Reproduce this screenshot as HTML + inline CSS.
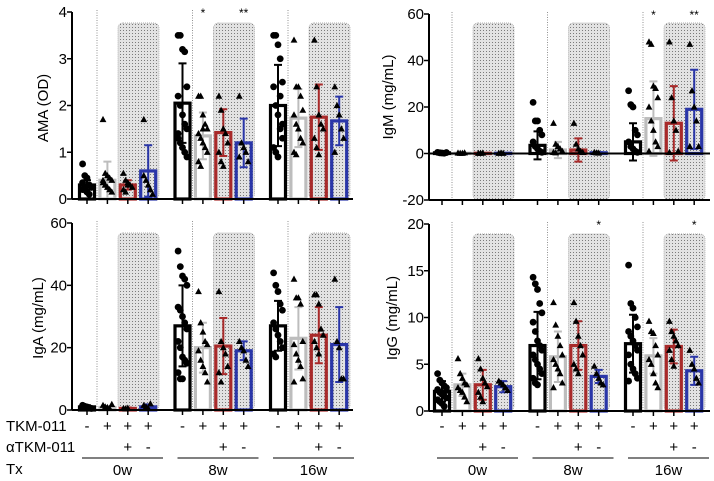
<!DOCTYPE html>
<html><head><meta charset="utf-8"><style>
html,body{margin:0;padding:0;background:#fff;}
svg{display:block;font-family:"Liberation Sans",Arial,sans-serif;}
</style></head><body>
<svg id="chart" width="714" height="481" viewBox="0 0 714 481" xmlns="http://www.w3.org/2000/svg">
<defs>
<pattern id="dots" width="3" height="3" patternUnits="userSpaceOnUse">
<rect width="3" height="3" fill="#e2e2e2"/><rect width="1" height="1" fill="#7a7a7a"/>
</pattern>
</defs>
</svg>
<script>
// ---------- data ----------
const groupLabels = ["0w","8w","16w"];
const tkmSigns = ["-","+","+","+"];
const atkmSigns = ["","","+","-"];

const amaMeans = [0.3,0.4,0.3,0.6, 2.05,1.35,1.42,1.2, 2.0,1.73,1.75,1.67];
const amaSD    = [0.1,0.4,0.1,0.55, 0.85,0.5,0.5,0.52, 0.87,0.62,0.7,0.52];
const amaPoints = [
 [0.75,0.5,0.45,0.3,0.25,0.2,0.2,0.15,0.3,0.25,0.35,0.2,0.15,0.1],
 [1.7,0.55,0.5,0.45,0.4,0.35,0.3,0.25,0.2,0.15,0.4,0.3],
 [0.55,0.4,0.35,0.3,0.25,0.2,0.15,0.3],
 [1.7,0.4,0.3,0.2,0.1,0.5],
 [3.5,3.5,3.2,3.15,2.4,2.2,2.0,1.8,1.6,1.5,1.3,1.2,1.1,1.0,0.9,1.4],
 [2.2,2.2,1.8,1.6,1.5,1.4,1.3,1.2,1.1,1.0,0.8,0.7,1.5],
 [2.2,1.9,1.5,1.4,1.2,1.0,0.8,0.7],
 [2.2,1.2,1.1,1.0,0.8,0.9],
 [3.5,3.5,3.3,3.0,2.5,2.4,2.0,1.8,1.5,1.3,1.1,1.0,0.9,2.2,1.6],
 [3.4,2.4,2.4,2.2,1.9,1.8,1.6,1.5,1.3,1.2,1.0,0.95],
 [3.4,2.4,1.8,1.6,1.5,1.3,1.1,0.95],
 [2.4,2.0,1.8,1.5,1.3,1.0]
];
const amaStars = ["","","","", "","*","","**", "","","",""];
const amaTicks = [0,1,2,3,4];

const igmMeans = [0.3,0.1,0.1,0.1, 3.5,1.5,1.5,0.3, 5,15,13,19];
const igmSD    = [0.3,0.1,0.1,0.1, 6,3.5,5,0.3, 8,16,16,17];
const igmPoints = [
 [0.5,0.3,0.2,0.1,0.4],[0.2,0.1,0.1,0.3],[0.1,0.1,0.2],[0.1,0.2,0.1],
 [22,14,14,10,8,5,3,2,1,0.5],[13,4,3,2,1,0.5,0.3],[13,4,2,1,0.5],[0.5,0.3,0.2],
 [27,21,20,10,8,5,3,2,1,0.5],[48,47,29,28,24,20,14,10,5,3,1],[48,24,14,10,1,0.5],[47,27,20,14,3,3]
];
const igmStars = ["","","","", "","","","", "","*","","**"];
const igmTicks = [-20,0,20,40,60];

const igaMeans = [1,0.8,0.5,1, 27,20,20.5,19, 27,23,24,21];
const igaSD    = [0.5,0.5,0.3,0.8, 13,8,9,3, 8,10,9,12];
const igaPoints = [
 [1.5,1.2,1,0.8,0.5,1.3],[1.5,1,0.8,0.5,1.8],[0.5,0.4,0.6],[1.5,1,0.5,2],
 [51,46,43,42,40,33,32,30,28,26,22,20,17,16,15,12,10,10],[38,28,25,22,21,19,16,14,12,9],[38,22,20,18,14,12,9],[22,20,19,16,14],
 [44,40,38,34,32,28,26,24,22,20,18,17],[42,36,36,34,22,21,18,16,14,10,9],[37,37,34,26,24,22,20,18],[42,22,20,10,10]
];
const igaStars = ["","","","","","","","","","","",""];
const igaTicks = [0,20,40,60];

const iggMeans = [2.1,2.8,2.8,2.6, 7,5.8,7,3.7, 7.2,5.9,6.9,4.3];
const iggSD    = [1.1,1.2,1.6,0.6, 3.6,2.7,2.6,0.7, 3.1,1.9,1.8,1.5];
const iggPoints = [
 [4,3.3,3,2.7,2.5,2.3,2,1.8,1.6,1.4,1.2,1,0.8,0.5,2.2],[5.6,4,3.5,3,2.8,2.5,2.2,2,1.5,1],[5.6,4.5,3.5,3,2.6,2,1.5,1],[3.2,3,2.8,2.5,2.2],
 [14.3,13.6,13,11.5,10.5,9.5,8.5,7.5,7,6.5,6,5.5,5,4.5,4,3.5,3,2.8],[11.6,9.2,8,7,6,5.5,5,4.5,4,3,2.5],[11.6,9.6,8,7,6,5,4.5,4],[4.8,4,3.5,3,2.8],
 [15.6,11.5,11,10,9,8.5,8,7.5,7,6.5,6,5,4.5,4,3.5,3.2],[9.6,8.5,8.3,7,6,5.5,5,4,3,2.5],[9.6,8.5,8,7.5,7,6.5,5.5,4.8],[6.5,5,4.5,3.5,3]
];
const iggStars = ["","","","", "","","","*", "","","","*"];
const iggTicks = [0,5,10,15,20];

// ---------- drawing ----------
const svg = document.getElementById('chart');
const NS = "http://www.w3.org/2000/svg";
const colors = ["#000000","#bdbdbd","#a82a2a","#2a36a8"];
function mk(tag, attrs, parent){
  const e = document.createElementNS(NS, tag);
  for (const k in attrs) e.setAttribute(k, attrs[k]);
  (parent||svg).appendChild(e);
  return e;
}

function panel(name, P, means, sds, points, stars, ticks, ylabel){
  const g = mk('g', {});
  
  
  const ys = v => P.y0 - (v - P.vmin) * (P.y0 - P.ytop) / (P.vmax - P.vmin);
  const bx = i => P.x0 + Math.floor(i/4)*95.5 + (i%4)*20.4;
  for (let gi=0; gi<3; gi++){
    const gx = P.x0 + gi*95.5;
    const r = mk('rect', {x:gx+31, y:P.shadeTop, width:41, height:P.y0-P.shadeTop, rx:5, fill:'url(#dots)', stroke:'#999', 'stroke-width':0.7, 'stroke-dasharray':'1,1'}, g);
    
    
    const l = mk('line', {x1:gx+10, x2:gx+10, y1:P.ytop-2, y2:P.y0, stroke:'#777', 'stroke-width':0.8, 'stroke-dasharray':'1,1.5'}, g);
    
    
  }
  for (let i=0;i<12;i++){
    const x = bx(i), c = colors[i%4];
    const base = ys(Math.max(0, P.vmin));
    const top = ys(means[i]);
    const bar = mk('rect', {x:x-7.5, y:Math.min(top,base), width:15, height:Math.abs(base-top), fill:'none', stroke:c, 'stroke-width':3.2}, g);
    
    
    const hi = ys(means[i]+sds[i]), lo = ys(means[i]-sds[i]);
    const eb = mk('path', {d:`M${x},${hi}V${lo}M${x-4},${hi}H${x+4}M${x-4},${lo}H${x+4}`, stroke:c, 'stroke-width':2, fill:'none'}, g);
    
    
    points[i].forEach((v, j) => {
      const off = ((j%5)-2)*2.2;
      const px = x + off, py = ys(v);
      let m;
      if (i%4===0) m = mk('circle', {cx:px, cy:py, r:3.4, fill:'#000'}, g);
      else m = mk('path', {d:`M${px},${py-3.6}L${px+3.4},${py+2.6}L${px-3.4},${py+2.6}Z`, fill:'#000'}, g);
      
      
    });
    if (stars[i]) {
      const s = mk('text', {x:x, y:P.ytop+5, 'font-size':12, 'text-anchor':'middle'}, g);
      s.textContent = stars[i];
      
      
    }
  }
  const ya = mk('line', {x1:P.ax, x2:P.ax, y1:P.ytop, y2:P.y0, stroke:'#000', 'stroke-width':2}, g);
  
  
  const xa = mk('line', {x1:P.ax, x2:P.ax+281, y1:P.y0, y2:P.y0, stroke:'#000', 'stroke-width':2}, g);
  
  
  if (P.vmin < 0){
    const z = mk('line', {x1:P.ax, x2:P.ax+281, y1:ys(0), y2:ys(0), stroke:'#000', 'stroke-width':2}, g);
    
    
  }
  for (let i=0;i<12;i++){
    const t = mk('line', {x1:bx(i), x2:bx(i), y1:P.y0, y2:P.y0+5, stroke:'#000', 'stroke-width':1.5}, g);
    
    
  }
  ticks.forEach(v => {
    const y = ys(v);
    const t = mk('line', {x1:P.ax-5, x2:P.ax, y1:y, y2:y, stroke:'#000', 'stroke-width':1.5}, g);
    
    
    const tl = mk('text', {x:P.ax-5, y:y+5, 'font-size':15, 'text-anchor':'end'}, g);
    tl.textContent = v;
    
    
  });
  const yl = mk('text', {x:0, y:0, 'font-size':15, 'text-anchor':'middle', transform:`translate(${P.lx},${P.ly}) rotate(-90)`}, g);
  yl.textContent = ylabel;
  
  
}

panel('ama', {x0:87, ax:72, y0:199, ytop:12, vmin:0, vmax:4, shadeTop:23, lx:48, ly:108}, amaMeans, amaSD, amaPoints, amaStars, amaTicks, 'AMA  (OD)');
panel('igm', {x0:442, ax:429, y0:200, ytop:14, vmin:-20, vmax:60, shadeTop:23, lx:393, ly:97}, igmMeans, igmSD, igmPoints, igmStars, igmTicks, 'IgM (mg/mL)');
panel('iga', {x0:87, ax:72, y0:410, ytop:223, vmin:0, vmax:60, shadeTop:233, lx:43, ly:318}, igaMeans, igaSD, igaPoints, igaStars, igaTicks, 'IgA (mg/mL)');
panel('igg', {x0:442, ax:429, y0:411, ytop:224, vmin:0, vmax:20, shadeTop:234, lx:397, ly:318}, iggMeans, iggSD, iggPoints, iggStars, iggTicks, 'IgG (mg/mL)');

function rowLabel(txt, x, y, name){
  const t = mk('text', {x:x, y:y, 'font-size':15});
  t.textContent = txt;
  
  
}
rowLabel('TKM-011', 6, 431, 'tkm-row-label');
rowLabel('\u03b1TKM-011', 6, 452, 'atkm-row-label');
rowLabel('Tx', 6, 474, 'tx-row-label');
[87, 442].forEach(x0 => {
  for (let i=0;i<12;i++){
    const x = x0 + Math.floor(i/4)*95.5 + (i%4)*20.4;
    const a = mk('text', {x:x, y:431, 'font-size':15, 'text-anchor':'middle'});
    a.textContent = tkmSigns[i%4];
    
    
    if (atkmSigns[i%4]){
      const b = mk('text', {x:x, y:452, 'font-size':15, 'text-anchor':'middle'});
      b.textContent = atkmSigns[i%4];
      
      
    }
  }
  for (let gi=0; gi<3; gi++){
    const xs = x0 + gi*95.5 - 5, xe = xs + 81;
    const l = mk('line', {x1:xs, x2:xe, y1:458, y2:458, stroke:'#000', 'stroke-width':1});
    
    
    const t = mk('text', {x:(xs+xe)/2, y:475, 'font-size':15, 'text-anchor':'middle'});
    t.textContent = groupLabels[gi];
    
    
  }
});
</script>
</body></html>
